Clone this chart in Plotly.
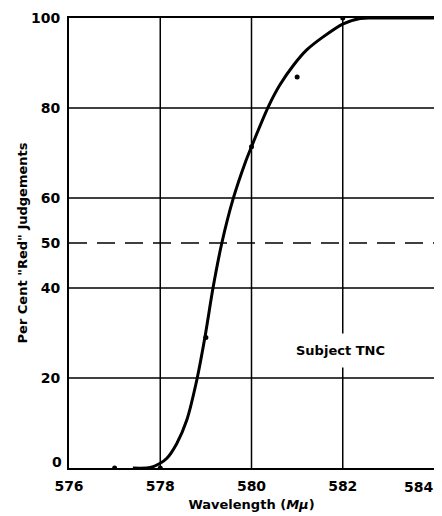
import plotly.graph_objects as go

# Observed data points
wl_points = [577, 578, 579, 580, 581, 582]
pct_points = [0, 0, 29, 71.4, 86.9, 100]

# Fitted curve
wl_curve = [577.4, 577.78, 577.99, 578.14, 578.36, 578.58, 578.8, 578.98, 579.16, 579.35,
            579.6, 579.86, 580.0, 580.37, 580.62, 580.92, 581.21, 581.57, 582.01,
            582.38, 582.66, 584.0]
pct_curve = [0, 0.1, 1.0, 2.1, 5.4, 10.6, 19.5, 29.1, 40.2, 50,
             59.9, 67.8, 71.4, 80.3, 85.1, 89.5, 92.9, 95.8, 98.7,
             99.9, 100, 100]

x_ticks = [576, 578, 580, 582, 584]
y_ticks = [0, 20, 40, 50, 60, 80, 100]
x_grid = [578, 580, 582]
y_grid = [20, 40, 60, 80]
y_dash = [50]

FONT = "DejaVu Sans"
TICKFONT = dict(family=FONT, size=14, color="black", weight="bold")
TITLEFONT = dict(family=FONT, size=13, color="black", weight="bold")

fig = go.Figure()
fig.add_trace(go.Scatter(x=wl_curve, y=pct_curve, mode="lines",
                         line=dict(color="black", width=3, shape="spline", smoothing=0.8),
                         hoverinfo="skip", showlegend=False))
fig.add_trace(go.Scatter(x=wl_points, y=pct_points, mode="markers",
                         marker=dict(color="black", size=5), showlegend=False))

shapes = []
for gx in x_grid:
    shapes.append(dict(type="line", xref="x", yref="y", x0=gx, x1=gx, y0=0, y1=100,
                       line=dict(color="black", width=1.5), layer="below"))
for gy in y_grid:
    shapes.append(dict(type="line", xref="x", yref="y", x0=576, x1=584, y0=gy, y1=gy,
                       line=dict(color="black", width=1.5), layer="below"))
for gy in y_dash:
    shapes.append(dict(type="line", xref="x", yref="y", x0=576, x1=584, y0=gy, y1=gy,
                       line=dict(color="black", width=1.5, dash="18px,10px"), layer="below"))

# Edge tick labels placed as annotations (as in the original, nudged inward)
x_ticktext = [str(v) if v != x_ticks[-1] else "" for v in x_ticks]
y_ticktext = [str(v) if v != y_ticks[0] else "" for v in y_ticks]

annotations = [
    dict(x=581.94, y=26.2, xref="x", yref="y", text="Subject TNC",
         showarrow=False, bgcolor="white", borderpad=9,
         font=dict(family=FONT, size=13, color="black", weight="bold")),
    dict(x=x_ticks[-1], y=0, xref="x", yref="paper", text=str(x_ticks[-1]),
         xanchor="right", yanchor="top", yshift=-9, xshift=1, showarrow=False, font=TICKFONT),
    dict(x=0, y=y_ticks[0], xref="paper", yref="y", text=str(y_ticks[0]),
         xanchor="right", yanchor="middle", xshift=-5, yshift=6, showarrow=False, font=TICKFONT),
]

# The page body has an 8px margin, so the figure is sized to fit inside it
fig.update_layout(
    width=434, height=508,
    margin=dict(l=61, r=8, t=10, b=48, autoexpand=False),
    paper_bgcolor="white", plot_bgcolor="white",
    shapes=shapes,
    font=dict(family=FONT, color="black"),
    xaxis=dict(range=[576, 584], tickvals=x_ticks, ticktext=x_ticktext,
               showgrid=False, zeroline=False, showline=True, mirror=True,
               linecolor="black", linewidth=2, ticks="", ticklabelstandoff=4,
               tickfont=TICKFONT, automargin=False,
               title=dict(text="Wavelength (<i>Mμ</i>)", standoff=7, font=TITLEFONT)),
    yaxis=dict(range=[0, 100], tickvals=y_ticks, ticktext=y_ticktext,
               showgrid=False, zeroline=False, showline=True, mirror=True,
               linecolor="black", linewidth=2, ticks="", ticklabelstandoff=4,
               tickfont=TICKFONT, automargin=False,
               title=dict(text='Per Cent "Red" Judgements', standoff=0, font=TITLEFONT)),
    annotations=annotations,
)

fig.write_html("out.html")
